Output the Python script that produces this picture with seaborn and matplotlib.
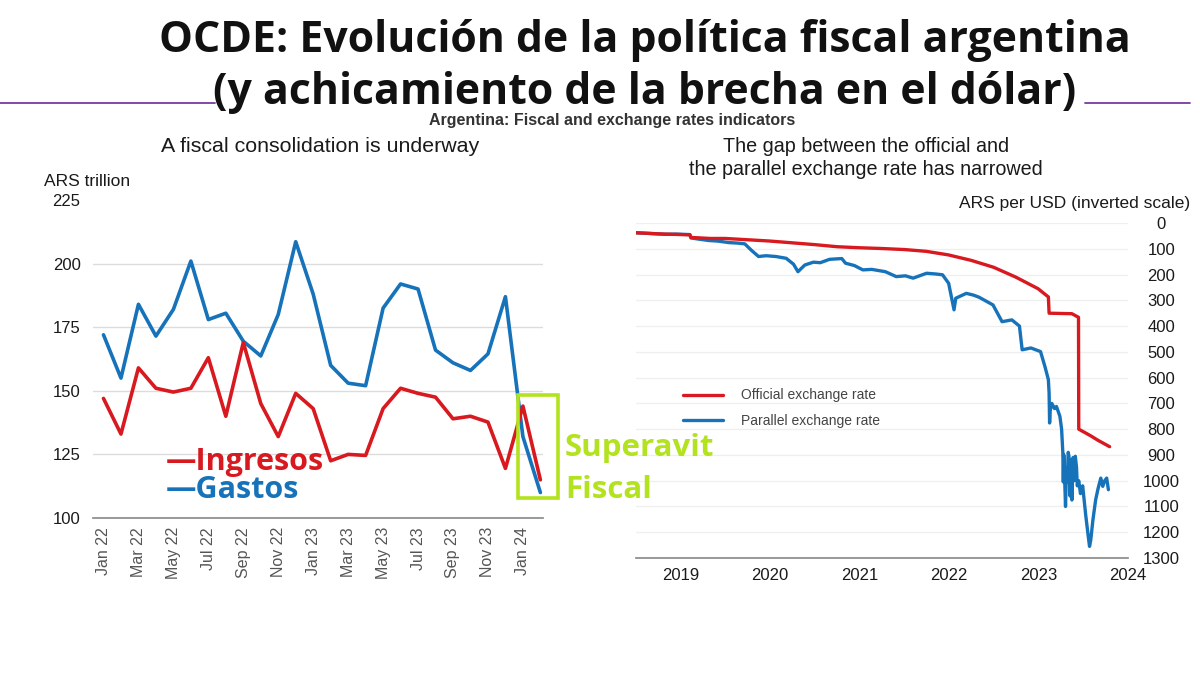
import numpy as np
import pandas as pd
import matplotlib
matplotlib.use("Agg")
import matplotlib.pyplot as plt
from matplotlib.lines import Line2D
from matplotlib.patches import Rectangle
import seaborn as sns

# --- Datos: panel izquierdo (ARS trillion, mensual) ---
meses = ["Jan 22", "Feb 22", "Mar 22", "Apr 22", "May 22", "Jun 22", "Jul 22", "Aug 22",
         "Sep 22", "Oct 22", "Nov 22", "Dec 22", "Jan 23", "Feb 23", "Mar 23", "Apr 23",
         "May 23", "Jun 23", "Jul 23", "Aug 23", "Sep 23", "Oct 23", "Nov 23", "Dec 23",
         "Jan 24", "Feb 24"]
ingresos = [147, 133, 159, 151, 149.5, 151, 163, 140, 169, 145, 132, 149, 143, 122.5,
            125, 124.6, 143, 151, 149, 147.5, 139, 140, 137.7, 119.5, 144, 115]
gastos = [172, 155, 184, 171.5, 182, 201, 178, 180.5, 169.5, 163.7, 180, 208.6, 188, 160,
          153, 152, 182.5, 192, 190, 166, 161, 158, 164.5, 187, 132, 110]

# --- Datos: panel derecho (ARS por USD) ---
fechas_oficial = ["2019-01-02", "2019-04-01", "2019-08-09", "2019-08-13", "2019-10-31",
                  "2019-12-31", "2020-03-31", "2020-06-30", "2020-09-30", "2020-12-31",
                  "2021-03-31", "2021-06-30", "2021-09-30", "2021-12-31", "2022-03-31",
                  "2022-06-30", "2022-09-30", "2022-12-31", "2023-03-31", "2023-06-30",
                  "2023-08-11", "2023-08-14", "2023-11-15", "2023-12-12", "2023-12-13",
                  "2024-01-31", "2024-02-29", "2024-04-17"]
oficial = [38, 42, 46, 56, 60, 60, 65, 70, 77, 84, 92, 96, 99, 103, 110, 124, 145, 172,
           210, 255, 287, 350, 352, 366, 800, 826, 843, 868]

fechas_paralelo = ["2019-01-02", "2019-02-15", "2019-04-30", "2019-06-15", "2019-08-09",
                   "2019-08-13", "2019-09-10", "2019-10-25", "2019-11-29", "2020-01-15",
                   "2020-02-20", "2020-03-20", "2020-04-15", "2020-05-15", "2020-06-15",
                   "2020-07-25", "2020-09-05", "2020-10-05", "2020-10-23", "2020-11-20",
                   "2020-12-25", "2021-01-22", "2021-03-01", "2021-04-20", "2021-05-05",
                   "2021-06-10", "2021-07-15", "2021-08-20", "2021-10-15", "2021-11-28",
                   "2022-01-05", "2022-02-05", "2022-04-01", "2022-05-10", "2022-06-05",
                   "2022-06-30", "2022-07-22", "2022-07-29", "2022-09-10", "2022-10-10",
                   "2022-11-01", "2022-12-28", "2023-02-03", "2023-03-15", "2023-04-15",
                   "2023-04-26", "2023-06-01", "2023-07-10", "2023-07-28", "2023-08-11",
                   "2023-08-14", "2023-08-16", "2023-08-18", "2023-08-25", "2023-09-05",
                   "2023-09-13", "2023-09-27", "2023-10-04", "2023-10-09", "2023-10-11",
                   "2023-10-13", "2023-10-17", "2023-10-20", "2023-10-24", "2023-10-27",
                   "2023-10-31", "2023-11-03", "2023-11-08", "2023-11-10", "2023-11-15",
                   "2023-11-20", "2023-11-24", "2023-11-29", "2023-12-04", "2023-12-07",
                   "2023-12-13", "2023-12-20", "2023-12-29", "2024-01-10", "2024-01-20",
                   "2024-01-26", "2024-01-31", "2024-02-09", "2024-02-20", "2024-03-01",
                   "2024-03-12", "2024-03-20", "2024-03-28", "2024-04-05", "2024-04-12"]
paralelo = [38, 40, 44, 43, 45, 58, 62, 68, 70, 76, 78, 81, 105, 130, 127, 130, 137, 160,
            189, 163, 152, 154, 141, 138, 156, 165, 182, 180, 189, 208, 205, 214, 195, 198,
            201, 234, 337, 292, 273, 280, 288, 318, 383, 376, 400, 492, 485, 499, 557, 608,
            660, 776, 730, 700, 720, 712, 750, 800, 890, 1005, 900, 1010, 1100, 950, 1005,
            890, 905, 1060, 920, 1075, 910, 1000, 905, 950, 1020, 1000, 1050, 1020, 1130,
            1210, 1255, 1230, 1151, 1074, 1030, 990, 1022, 1000, 990, 1035]

ROJO = "#d8191f"
AZUL = "#1673ba"
VERDE = "#b2e31e"

sns.set_theme(style="white")
plt.rcParams["font.family"] = ["Liberation Sans", "DejaVu Sans"]


def fx(px):
    return px / 1200


def fy(py):
    return 1 - py / 675


fig = plt.figure(figsize=(12, 6.75), dpi=100)
ax1 = fig.add_axes([fx(93), fy(518), 450 / 1200, 318 / 675])
ax2 = fig.add_axes([fx(636), fy(558), 492 / 1200, 335 / 675])

# --- Panel izquierdo ---
df_fiscal = pd.DataFrame({"mes": np.arange(len(meses)), "Ingresos": ingresos, "Gastos": gastos})
sns.lineplot(data=df_fiscal, x="mes", y="Gastos", ax=ax1, color=AZUL, lw=2.6)
sns.lineplot(data=df_fiscal, x="mes", y="Ingresos", ax=ax1, color=ROJO, lw=2.6)
ax1.set_xlim(-0.6, 25.15)
ax1.set_ylim(100, 225)
ax1.set_yticks([100, 125, 150, 175, 200, 225])
ax1.set_xticks(range(0, len(meses), 2))
ax1.set_xticklabels(meses[::2], rotation=90)
ax1.set_xticks(range(len(meses)), minor=True)
ax1.set_xlabel("")
ax1.set_ylabel("")
for s in ["top", "right", "left"]:
    ax1.spines[s].set_visible(False)
ax1.spines["bottom"].set_color("#8c8c8c")
ax1.tick_params(axis="y", length=0, pad=9, labelsize=12, labelcolor="#1a1a1a")
ax1.tick_params(axis="x", which="both", length=3, direction="inout", color="#9a9a9a",
                pad=5, labelsize=11.5, labelcolor="#555555")
ax1.grid(axis="y", color="#dcdcdc", lw=1)
ax1.get_ygridlines()[-1].set_visible(False)

# --- Panel derecho ---
df_of = pd.DataFrame({"fecha": pd.to_datetime(fechas_oficial), "valor": oficial})
df_par = pd.DataFrame({"fecha": pd.to_datetime(fechas_paralelo), "valor": paralelo})
sns.lineplot(data=df_par, x="fecha", y="valor", ax=ax2, color=AZUL, lw=2.4,
             label="Parallel exchange rate")
sns.lineplot(data=df_of, x="fecha", y="valor", ax=ax2, color=ROJO, lw=2.4,
             label="Official exchange rate")
ax2.set_xlim(pd.Timestamp("2019-01-01"), pd.Timestamp("2024-07-01"))
ax2.set_ylim(1300, 0)
ax2.set_yticks(range(0, 1301, 100))
ax2.yaxis.tick_right()
ax2.set_xticks([pd.Timestamp(f"{a}-07-01") for a in range(2019, 2025)])
ax2.set_xticklabels([str(a) for a in range(2019, 2025)])
ax2.set_xticks([pd.Timestamp(f"{a}-01-01") for a in range(2020, 2025)], minor=True)
ax2.set_xlabel("")
ax2.set_ylabel("")
for s in ["top", "right", "left"]:
    ax2.spines[s].set_visible(False)
ax2.spines["bottom"].set_color("#8c8c8c")
ax2.tick_params(axis="y", length=0, pad=24, labelsize=12, labelcolor="#1a1a1a")
for t in ax2.get_yticklabels():
    t.set_horizontalalignment("center")
ax2.tick_params(axis="x", which="major", length=0, pad=7, labelsize=12, labelcolor="#1a1a1a")
ax2.tick_params(axis="x", which="minor", length=4, direction="in", color="#eeeeee")
ax2.grid(axis="y", color="#efefef", lw=0.9)

h, l = ax2.get_legend_handles_labels()
ax2.legend(h[::-1], l[::-1], loc="upper left", bbox_to_anchor=(fx(670), fy(376)),
           bbox_transform=fig.transFigure, frameon=False, fontsize=10,
           handlelength=2.9, handletextpad=1.3, labelspacing=0.85, labelcolor="#444444")

# --- Textos ---
titulo_fuente = ["Open Sans", "DejaVu Sans"]
fig.text(fx(645), fy(41), "OCDE: Evolución de la política fiscal argentina", ha="center",
         va="center", fontsize=30.8, fontweight="bold", family=titulo_fuente, color="#111111")
fig.text(fx(645), fy(93), "(y achicamiento de la brecha en el dólar)", ha="center",
         va="center", fontsize=30.8, fontweight="bold", family=titulo_fuente, color="#111111")
fig.add_artist(Line2D([0, fx(215)], [fy(103), fy(103)], transform=fig.transFigure,
                      color="#7a3a9e", lw=1.3))
fig.add_artist(Line2D([fx(1085), fx(1190)], [fy(103), fy(103)], transform=fig.transFigure,
                      color="#7a3a9e", lw=1.3))
fig.text(fx(612), fy(121), "Argentina: Fiscal and exchange rates indicators", ha="center",
         va="center", fontsize=11.5, fontweight="bold", color="#333333")

fig.text(fx(320), fy(146), "A fiscal consolidation is underway", ha="center", va="center",
         fontsize=15.4, color="#1a1a1a")
fig.text(fx(866), fy(158), "The gap between the official and\nthe parallel exchange rate has narrowed",
         ha="center", va="center", fontsize=14.2, color="#1a1a1a", linespacing=1.3)
fig.text(fx(44), fy(181), "ARS trillion", ha="left", va="center", fontsize=12.5, color="#1a1a1a")
fig.text(fx(1190), fy(204), "ARS per USD (inverted scale)", ha="right", va="center",
         fontsize=12.5, color="#1a1a1a")

fuente_rotulo = ["Open Sans", "DejaVu Sans"]
fig.text(fx(166), fy(462), "\u2014Ingresos", ha="left", va="center", fontsize=22,
         fontweight="bold", family=fuente_rotulo, color=ROJO)
fig.text(fx(166), fy(490), "\u2014Gastos", ha="left", va="center", fontsize=22,
         fontweight="bold", family=fuente_rotulo, color=AZUL)
fig.add_artist(Rectangle((fx(518), fy(498)), 40 / 1200, 103 / 675, transform=fig.transFigure,
                         fill=False, edgecolor=VERDE, lw=2.6))
fig.text(fx(565), fy(448), "Superavit", ha="left", va="center", fontsize=22.5,
         fontweight="bold", family=fuente_rotulo, color=VERDE)
fig.text(fx(565), fy(490), "Fiscal", ha="left", va="center", fontsize=22.5,
         fontweight="bold", family=fuente_rotulo, color=VERDE)

fig.savefig("out.png", dpi=100)
